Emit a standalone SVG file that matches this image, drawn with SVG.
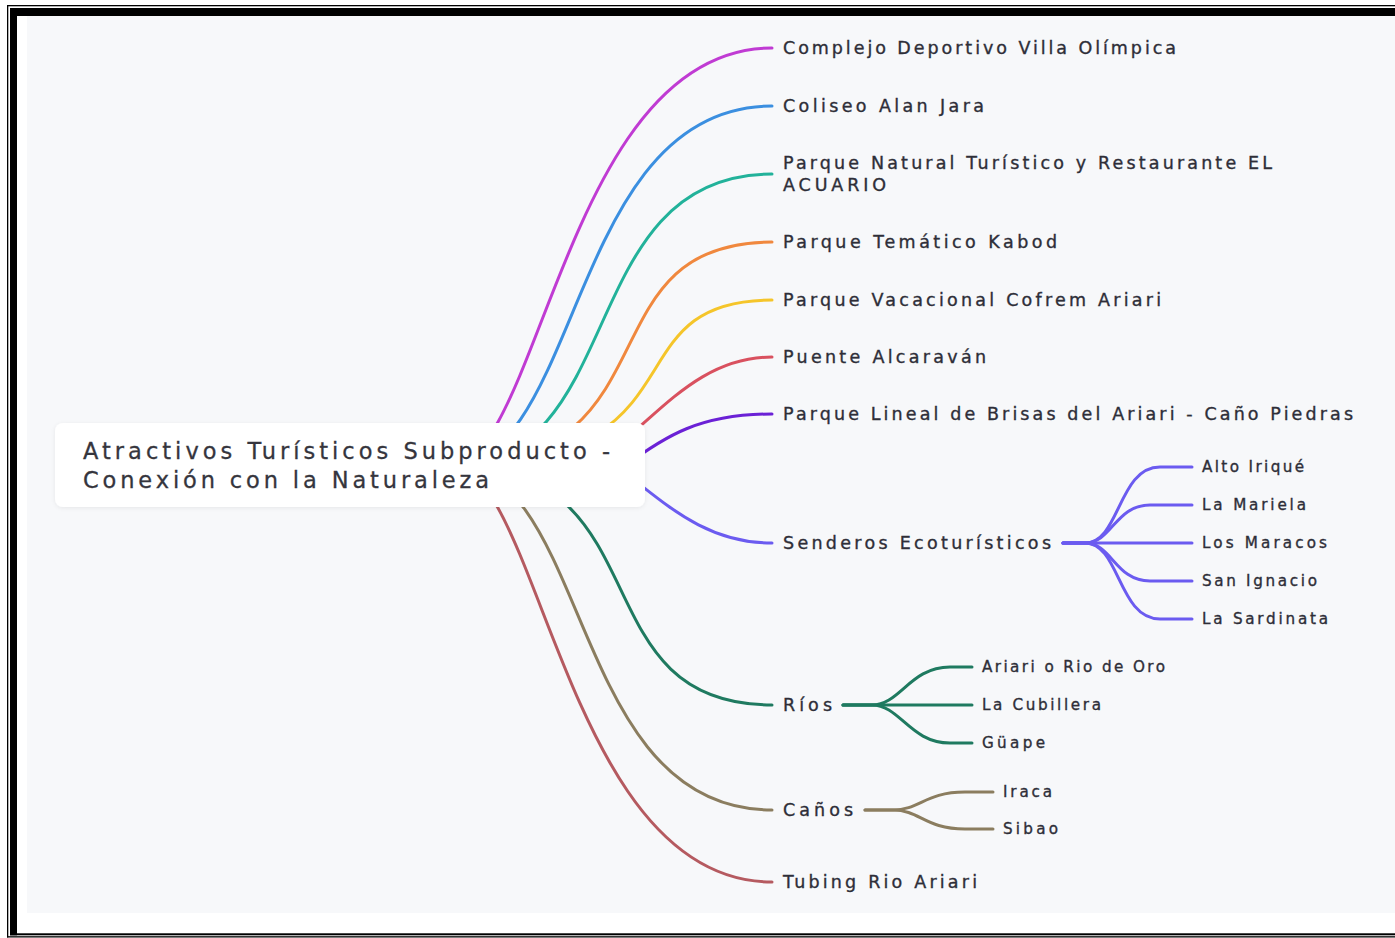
<svg xmlns="http://www.w3.org/2000/svg" width="1395" height="938" viewBox="0 0 1395 938">
<style>
.bg{fill:#f7f8fa}
.c{fill:none;stroke-width:3;stroke-linecap:round;stroke-linejoin:round}
.t{font-family:"DejaVu Sans","Noto Sans",sans-serif;font-weight:normal;fill:#2e2e38;stroke:#2e2e38;stroke-width:0.35px}
.m{font-size:17.5px}
.s{font-size:15.2px}
.h{font-size:22.5px;fill:#35353d;stroke:#35353d;stroke-width:0.3px}
</style>
<defs>
<filter id="sh" x="-5%" y="-20%" width="110%" height="140%">
<feDropShadow dx="0" dy="1" stdDeviation="2" flood-color="#000" flood-opacity="0.07"/>
</filter>
</defs>
<rect x="0" y="0" width="1395" height="938" fill="#ffffff"/>
<rect class="bg" x="27" y="16" width="1368" height="897"/>
<g id="frame" fill="#000">
<rect x="7" y="5" width="1388" height="1.3"/>
<rect x="7" y="5" width="1.3" height="932.5"/>
<rect x="7" y="936.2" width="1388" height="1.3"/>
<rect x="10" y="8" width="1385" height="8"/>
<rect x="10" y="8" width="7" height="927.3"/>
<rect x="10" y="933.3" width="1385" height="2"/>
</g>
<g id="connectors">
<path class="c" stroke="#c03bd3" d="M450,465 C540,465 565,48 772,48"/>
<path class="c" stroke="#3b8fe0" d="M450,465 C582,465 568,106 772,106"/>
<path class="c" stroke="#22b29a" d="M450,465 C630,465 572,174 772,174"/>
<path class="c" stroke="#f0883e" d="M450,465 C679,465 580,242 772,242"/>
<path class="c" stroke="#f5c52a" d="M450,465 C712,465 605,300 772,300"/>
<path class="c" stroke="#d9515f" d="M625,439 C665,407 705,357 772,357"/>
<path class="c" stroke="#6b21d6" d="M625,466 C665,436 700,414 772,414"/>
<path class="c" stroke="#6b5bf0" d="M625,473 C665,503 705,543 772,543"/>
<path class="c" stroke="#1f7a60" d="M450,465 C667,465 575,705 772,705"/>
<path class="c" stroke="#8b7d5f" d="M450,465 C592,465 567,810 772,810"/>
<path class="c" stroke="#b55a60" d="M450,465 C540,465 565,882 772,882"/>
<path class="c" stroke="#6b5bf0" d="M1063,543 L1085,543 C1120,543 1118,467 1160,467 L1192,467"/>
<path class="c" stroke="#6b5bf0" d="M1063,543 L1085,543 C1112,543 1115,505 1150,505 L1192,505"/>
<path class="c" stroke="#6b5bf0" d="M1063,543 L1192,543"/>
<path class="c" stroke="#6b5bf0" d="M1063,543 L1085,543 C1112,543 1115,581 1150,581 L1192,581"/>
<path class="c" stroke="#6b5bf0" d="M1063,543 L1085,543 C1120,543 1118,619 1160,619 L1192,619"/>
<path class="c" stroke="#1f7a60" d="M843,705 L872,705 C900,705 910,667 950,667 L972,667"/>
<path class="c" stroke="#1f7a60" d="M843,705 L972,705"/>
<path class="c" stroke="#1f7a60" d="M843,705 L872,705 C900,705 910,743 950,743 L972,743"/>
<path class="c" stroke="#8b7d5f" d="M865,810 L893,810 C920,810 925,792 965,792 L993,792"/>
<path class="c" stroke="#8b7d5f" d="M865,810 L893,810 C920,810 925,829 965,829 L993,829"/>
</g>
<g id="root">
<rect x="55" y="423" width="590" height="84" rx="8" fill="#ffffff" filter="url(#sh)"/>
<text class="t h" x="83" y="459" textLength="527" lengthAdjust="spacing">Atractivos Turísticos Subproducto -</text>
<text class="t h" x="83" y="488" textLength="406" lengthAdjust="spacing">Conexión con la Naturaleza</text>
</g>
<g id="n1"><text class="t m" x="783" y="54" textLength="393" lengthAdjust="spacing">Complejo Deportivo Villa Olímpica</text></g>
<g id="n2"><text class="t m" x="783" y="112" textLength="201" lengthAdjust="spacing">Coliseo Alan Jara</text></g>
<g id="n3"><text class="t m" x="783" y="169" textLength="489" lengthAdjust="spacing">Parque Natural Turístico y Restaurante EL</text><text class="t m" x="783" y="191" textLength="103" lengthAdjust="spacing">ACUARIO</text></g>
<g id="n4"><text class="t m" x="783" y="248" textLength="274" lengthAdjust="spacing">Parque Temático Kabod</text></g>
<g id="n5"><text class="t m" x="783" y="306" textLength="378" lengthAdjust="spacing">Parque Vacacional Cofrem Ariari</text></g>
<g id="n6"><text class="t m" x="783" y="363" textLength="203" lengthAdjust="spacing">Puente Alcaraván</text></g>
<g id="n7"><text class="t m" x="783" y="420" textLength="570" lengthAdjust="spacing">Parque Lineal de Brisas del Ariari - Caño Piedras</text></g>
<g id="n8"><text class="t m" x="783" y="549" textLength="268" lengthAdjust="spacing">Senderos Ecoturísticos</text></g>
<g id="n8a"><text class="t s" x="1202" y="472" textLength="102" lengthAdjust="spacing">Alto Iriqué</text></g>
<g id="n8b"><text class="t s" x="1202" y="510" textLength="104" lengthAdjust="spacing">La Mariela</text></g>
<g id="n8c"><text class="t s" x="1202" y="548" textLength="125" lengthAdjust="spacing">Los Maracos</text></g>
<g id="n8d"><text class="t s" x="1202" y="586" textLength="115" lengthAdjust="spacing">San Ignacio</text></g>
<g id="n8e"><text class="t s" x="1202" y="624" textLength="126" lengthAdjust="spacing">La Sardinata</text></g>
<g id="n9"><text class="t m" x="783" y="711" textLength="49" lengthAdjust="spacing">Ríos</text></g>
<g id="n9a"><text class="t s" x="982" y="672" textLength="183" lengthAdjust="spacing">Ariari o Rio de Oro</text></g>
<g id="n9b"><text class="t s" x="982" y="710" textLength="119" lengthAdjust="spacing">La Cubillera</text></g>
<g id="n9c"><text class="t s" x="982" y="748" textLength="63" lengthAdjust="spacing">Güape</text></g>
<g id="n10"><text class="t m" x="783" y="816" textLength="70" lengthAdjust="spacing">Caños</text></g>
<g id="n10a"><text class="t s" x="1003" y="797" textLength="49" lengthAdjust="spacing">Iraca</text></g>
<g id="n10b"><text class="t s" x="1003" y="834" textLength="55" lengthAdjust="spacing">Sibao</text></g>
<g id="n11"><text class="t m" x="783" y="888" textLength="194" lengthAdjust="spacing">Tubing Rio Ariari</text></g>
</svg>
